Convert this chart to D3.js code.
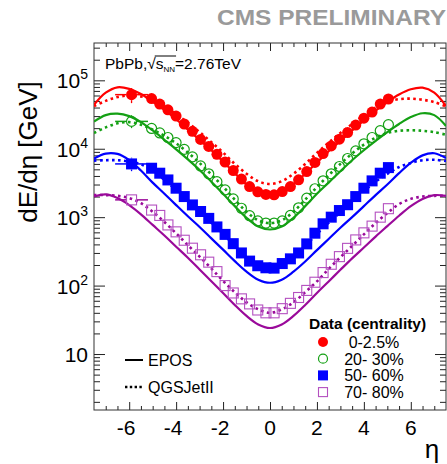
<!DOCTYPE html>
<html>
<head>
<meta charset="utf-8">
<script src="https://cdn.jsdelivr.net/npm/d3@7"></script>
<style>
    body { margin: 0; background: #fff; }
    svg { display: block; font-family: "Liberation Sans", Arial, sans-serif; }
</style>
</head>
<body>
<div id="chart"></div>
<script>

// ---------- data ----------

// pseudorapidity bins of the measurement
const etaData = [-5.046, -4.698, -4.350, -4.002, -3.654, -3.306, -2.958, -2.610, -2.262, -1.914, -1.566, -1.218, -0.870, -0.522, -0.174,
                 0.174, 0.522, 0.870, 1.218, 1.566, 1.914, 2.262, 2.610, 2.958, 3.306, 3.654, 4.002, 4.350, 4.698, 5.046];

const data0_2p5 = [54000, 45000, 37000, 30000, 23000, 18000, 13700, 10800, 8300, 6400, 4800, 3600, 2800, 2350, 2150,
                   2120, 2370, 2800, 3510, 4640, 6300, 8500, 11000, 13800, 17200, 22200, 28000, 34400, 45000, 53300];
const data20_30 = [19800, 17000, 14600, 12300, 9800, 7600, 5600, 4300, 3300, 2500, 1850, 1350, 1050, 880, 820,
                   820, 880, 1060, 1370, 1900, 2600, 3400, 4300, 5500, 7200, 9300, 11800, 14600, 18400, 22500];
const data50_60 = [5190, 4390, 3500, 2650, 2000, 1510, 1210, 960, 720, 560, 410, 300, 228, 195, 182,
                   180, 210, 246, 300, 407, 583, 800, 1000, 1250, 1520, 2000, 2650, 3390, 4390, 5300];
const data70_80 = [1270, 1060, 770, 610, 460, 352, 282, 220, 160, 100, 78, 64, 54, 44, 40,
                   40, 46, 55, 67, 85, 112, 155, 205, 265, 350, 465, 590, 740, 1000, 1330];

// very forward point (one side only), with its bin width and error
const castorEta = -5.9;
const castorHalfWidth = 0.7;
const castorVal = [61700, 25100, 6000, 1790];
const castorLo = [46400, 20000, 4700, 1450];
const castorHi = [76900, 31000, 7400, 2150];

// model curves
const etaModel = [-7.5, -7, -6.5, -6, -5.5, -5, -4.5, -4, -3.5, -3, -2.5, -2, -1.5, -1, -0.5, 0,
                  0.5, 1, 1.5, 2, 2.5, 3, 3.5, 4, 4.5, 5, 5.5, 6, 6.5, 7, 7.5];

const eposA = [44000, 66000, 79000, 75000, 63000, 49000, 37000, 27000, 19000, 13500, 9500, 6500, 4400, 3000, 2250, 2000,
               2250, 3000, 4300, 6300, 9200, 13000, 18500, 26000, 36000, 48000, 62000, 74000, 78000, 66000, 42000];
const eposB = [25000, 31000, 32500, 30000, 24500, 18500, 13500, 9800, 7000, 4900, 3300, 2200, 1450, 980, 730, 660,
               730, 980, 1450, 2200, 3200, 4700, 6800, 9500, 13000, 17500, 23000, 29000, 33000, 31000, 21500];
const eposC = [7200, 8500, 8400, 6800, 4800, 3200, 2200, 1500, 1030, 720, 490, 335, 228, 160, 122, 110,
               122, 160, 225, 330, 480, 700, 1000, 1450, 2100, 3000, 4400, 6200, 8000, 8600, 7300];
const eposD = [2000, 2150, 1900, 1500, 1100, 770, 540, 370, 255, 172, 116, 78, 52, 36, 27, 24,
               27, 36, 52, 78, 115, 170, 250, 360, 520, 740, 1050, 1450, 1850, 2100, 2050];

const qgsA = [42000, 50000, 57000, 60000, 58000, 52000, 41000, 32000, 24000, 17500, 12500, 8800, 6000, 4300, 3350, 3050,
              3350, 4300, 6000, 8700, 12300, 17000, 23000, 31000, 40000, 49000, 53000, 54000, 52000, 48000, 41700];
const qgsB = [17000, 20500, 23500, 24500, 22500, 19000, 15500, 12000, 8800, 6200, 4200, 2800, 1800, 1200, 900, 820,
              900, 1200, 1800, 2750, 4100, 6000, 8500, 11500, 14500, 17000, 18300, 18600, 18300, 17500, 16000];
const qgsC = [6700, 6800, 6800, 6500, 5900, 4800, 3500, 2500, 1750, 1200, 830, 570, 380, 260, 200, 185,
              200, 260, 380, 570, 830, 1180, 1700, 2400, 3300, 4300, 5400, 6200, 6800, 6900, 6600];
const qgsD = [2100, 2100, 2050, 1900, 1600, 1200, 850, 580, 390, 265, 178, 117, 80, 57, 45, 40,
              45, 57, 80, 115, 175, 260, 380, 560, 820, 1150, 1550, 1850, 2000, 2050, 2050];

const centralities = ["0-2.5%", "20- 30%", "50- 60%", "70- 80%"];
const xTicksMajor = [-6, -4, -2, 0, 2, 4, 6];
const yTicksMajor = [10, 100, 1000, 10000, 100000];

// ---------- drawing ----------

const W = 447, H = 464;
const frame = {left: 94, right: 446, top: 43, bottom: 410};
const markSize = 5.5;

const series = [
    {data: data0_2p5, epos: eposA, qgs: qgsA, line: "#ff0000", mark: "#ff0000", shape: "circle", filled: true},
    {data: data20_30, epos: eposB, qgs: qgsB, line: "#14a014", mark: "#14a014", shape: "circle", filled: false},
    {data: data50_60, epos: eposC, qgs: qgsC, line: "#0000ff", mark: "#0000ff", shape: "square", filled: true},
    {data: data70_80, epos: eposD, qgs: qgsD, line: "#9a0a9a", mark: "#b450c0", shape: "square", filled: false}
];

const svg = d3.select("#chart").append("svg")
    .attr("width", W)
    .attr("height", H);

const x = d3.scaleLinear().domain([-7.5, 7.5]).range([frame.left, frame.right]);
const y = d3.scaleLog().domain([1.52, 3.51e5]).range([frame.bottom, frame.top]);

svg.append("clipPath").attr("id", "clip")
    .append("rect")
    .attr("x", frame.left).attr("y", frame.top)
    .attr("width", frame.right - frame.left).attr("height", frame.bottom - frame.top);

// minor ticks
let xMinor = d3.range(-7, 7.01, 0.5).filter(v => !xTicksMajor.includes(v));
let yMinor = [];
[1, 10, 100, 1000, 10000, 100000].forEach(dec => {
    for (let k = 2; k <= 9; k++) {
        let v = dec * k;
        if (v > 1.52 && v < 3.51e5) yMinor.push(v);
    }
});

function axisGroup(axis, tx, ty) {
    let g = svg.append("g")
        .attr("transform", `translate(${tx},${ty})`)
        .call(axis);
    g.select(".domain").remove();
    g.selectAll(".tick line").attr("stroke", "#222").attr("stroke-width", 1);
    return g;
}

// bottom / top
axisGroup(d3.axisBottom(x).tickValues(xTicksMajor).tickSize(-8).tickFormat(""), 0, frame.bottom);
axisGroup(d3.axisBottom(x).tickValues(xMinor).tickSize(-4).tickFormat(""), 0, frame.bottom);
axisGroup(d3.axisTop(x).tickValues(xTicksMajor).tickSize(-8).tickFormat(""), 0, frame.top);
axisGroup(d3.axisTop(x).tickValues(xMinor).tickSize(-4).tickFormat(""), 0, frame.top);
// left / right
axisGroup(d3.axisLeft(y).tickValues(yTicksMajor).tickSize(-11).tickFormat(""), frame.left, 0);
axisGroup(d3.axisLeft(y).tickValues(yMinor).tickSize(-6).tickFormat(""), frame.left, 0);
axisGroup(d3.axisRight(y).tickValues(yTicksMajor).tickSize(-11).tickFormat(""), frame.right, 0);
axisGroup(d3.axisRight(y).tickValues(yMinor).tickSize(-6).tickFormat(""), frame.right, 0);

// frame
svg.append("rect")
    .attr("x", frame.left).attr("y", frame.top)
    .attr("width", frame.right - frame.left).attr("height", frame.bottom - frame.top)
    .attr("fill", "none").attr("stroke", "#333").attr("stroke-width", 1);

// tick labels
svg.append("g").selectAll("text")
    .data(xTicksMajor)
    .enter().append("text")
    .attr("x", d => x(d) + (d < 0 ? -3 : 0))
    .attr("y", 435)
    .attr("text-anchor", "middle")
    .attr("font-size", 21)
    .text(d => d);

let yLab = svg.append("g").selectAll("text")
    .data(yTicksMajor)
    .enter().append("text")
    .attr("x", 88)
    .attr("y", d => y(d) + 8)
    .attr("text-anchor", "end")
    .attr("font-size", 21);
yLab.append("tspan").text("10");
yLab.filter(d => d > 10).append("tspan")
    .attr("font-size", 14)
    .attr("dy", -9)
    .text(d => Math.round(Math.log10(d)));

// axis titles
svg.append("text")
    .attr("transform", "translate(37,152) rotate(-90)")
    .attr("text-anchor", "middle")
    .attr("font-size", 26)
    .text("dE/dη [GeV]");

svg.append("text")
    .attr("x", 432).attr("y", 458)
    .attr("text-anchor", "middle")
    .attr("font-size", 26)
    .text("η");

svg.append("text")
    .attr("x", 446).attr("y", 25)
    .attr("text-anchor", "end")
    .attr("font-size", 22.5)
    .attr("font-weight", "bold")
    .attr("fill", "#9a9a9a")
    .attr("textLength", 229)
    .attr("lengthAdjust", "spacingAndGlyphs")
    .text("CMS PRELIMINARY");

// collision label
let lab = svg.append("text")
    .attr("x", 105).attr("y", 69)
    .attr("font-size", 15.5);
lab.append("tspan").text("PbPb,");
lab.append("tspan").text("√");
lab.append("tspan").text("s");
lab.append("tspan").attr("font-size", 8).attr("dy", 3).text("NN");
lab.append("tspan").attr("dy", -3).text("=2.76TeV");
let e5 = lab.node().getExtentOfChar(5);
let e8 = lab.node().getExtentOfChar(8);
svg.append("line")
    .attr("x1", e5.x + e5.width - 1).attr("x2", e8.x + e8.width + 1)
    .attr("y1", 56).attr("y2", 56)
    .attr("stroke", "#000").attr("stroke-width", 1);

// model curves
let plot = svg.append("g").attr("clip-path", "url(#clip)");

let line = d3.line()
    .x((d, i) => x(etaModel[i]))
    .y(d => y(d))
    .curve(d3.curveCatmullRom);

series.forEach(s => {
    plot.append("path")
        .attr("d", line(s.epos))
        .attr("fill", "none")
        .attr("stroke", s.line)
        .attr("stroke-width", 2.2);
    plot.append("path")
        .attr("d", line(s.qgs))
        .attr("fill", "none")
        .attr("stroke", s.line)
        .attr("stroke-width", 2.6)
        .attr("stroke-dasharray", "2.6,3.4");
});

// data markers
function drawMarker(g, s, cx, cy, size) {
    if (s.shape === "circle") {
        g.append("circle")
            .attr("cx", cx).attr("cy", cy).attr("r", s.filled ? size : size - 0.5)
            .attr("fill", s.filled ? s.mark : "none")
            .attr("stroke", s.mark)
            .attr("stroke-width", s.filled ? 0 : 1.2);
    } else {
        let h = s.filled ? size : size - 0.5;
        g.append("rect")
            .attr("x", cx - h).attr("y", cy - h)
            .attr("width", 2 * h).attr("height", 2 * h)
            .attr("fill", s.filled ? s.mark : "none")
            .attr("stroke", s.mark)
            .attr("stroke-width", s.filled ? 0 : 1.1);
    }
}

// vertical error drawn outside the marker only
function errorBar(g, colour, cx, yLo, yHi, cy) {
    [[yHi, Math.min(cy - markSize, yLo)], [Math.max(cy + markSize, yHi), yLo]].forEach(([a, b]) => {
        if (b > a) {
            g.append("line")
                .attr("x1", cx).attr("x2", cx)
                .attr("y1", a).attr("y2", b)
                .attr("stroke", colour).attr("stroke-width", 1.3);
        }
    });
}

series.forEach((s, si) => {
    let g = plot.append("g");

    // forward point with its horizontal bin and error
    let cx = x(castorEta), cy = y(castorVal[si]);
    [[x(castorEta - castorHalfWidth), cx - markSize], [cx + markSize, x(castorEta + castorHalfWidth)]].forEach(([a, b]) => {
        g.append("line")
            .attr("x1", a).attr("x2", b)
            .attr("y1", cy).attr("y2", cy)
            .attr("stroke", s.line).attr("stroke-width", 1.5);
    });
    errorBar(g, s.line, cx, y(castorLo[si]), y(castorHi[si]), cy);
    drawMarker(g, s, cx, cy, markSize);

    // small error ticks
    s.data.forEach((v, i) => {
        errorBar(g, s.line, x(etaData[i]), y(v * 0.88), y(v * 1.12), y(v));
    });
    s.data.forEach((v, i) => drawMarker(g, s, x(etaData[i]), y(v), markSize));
});

// legend: models
let leg = svg.append("g");
leg.append("line").attr("x1", 125).attr("x2", 143).attr("y1", 360).attr("y2", 360)
    .attr("stroke", "#000").attr("stroke-width", 2);
leg.append("line").attr("x1", 125).attr("x2", 143).attr("y1", 387).attr("y2", 387)
    .attr("stroke", "#000").attr("stroke-width", 2.4).attr("stroke-dasharray", "2.4,2.4");
leg.append("text").attr("x", 148).attr("y", 366).attr("font-size", 16).text("EPOS");
leg.append("text").attr("x", 148).attr("y", 393).attr("font-size", 16).text("QGSJetII");

// legend: data
leg.append("text")
    .attr("x", 309).attr("y", 329)
    .attr("font-size", 15.5).attr("font-weight", "bold")
    .text("Data (centrality)");

centralities.forEach((c, i) => {
    let ly = 342 + i * 16.7;
    drawMarker(leg, series[i], 323, ly, 5);
    leg.append("text")
        .attr("x", 374).attr("y", ly + 6)
        .attr("text-anchor", "middle")
        .attr("font-size", 16)
        .text(c);
});

</script>
</body>
</html>
